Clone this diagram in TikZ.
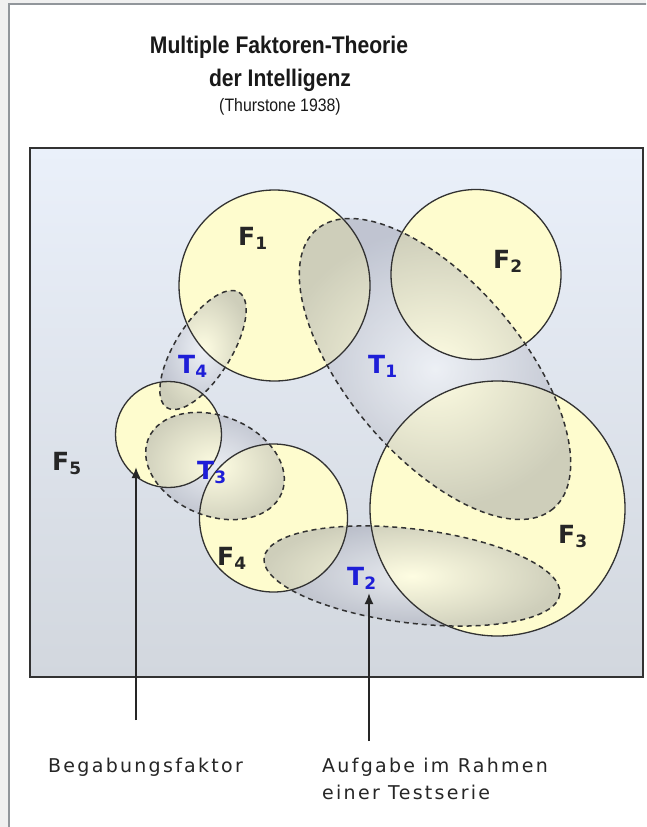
\documentclass[tikz,border=0pt]{standalone}
\usepackage{fontspec}
\setmainfont{Liberation Sans}
\newfontfamily\titlefont[FakeStretch=0.88]{Liberation Sans}
\newfontfamily\labfont{DejaVu Sans}
\newfontfamily\notefont[LetterSpace=12]{DejaVu Sans}
\usetikzlibrary{arrows.meta}

\definecolor{pagegray}{RGB}{240,240,240}
\definecolor{framegray}{RGB}{145,150,155}
\definecolor{boxtop}{RGB}{234,240,250}
\definecolor{boxbot}{RGB}{210,215,222}
\definecolor{circfill}{RGB}{254,252,206}
\definecolor{edgecol}{RGB}{50,50,50}
\definecolor{tblue}{RGB}{30,30,215}
\definecolor{shadeout}{RGB}{140,143,160}
\newcommand{\subdig}[1]{\raisebox{-4pt}{\fontsize{17}{17}\selectfont #1}}

\begin{document}
\begin{tikzpicture}[x=1pt,y=-1pt,
  circfillst/.style={fill=circfill},
  circline/.style={draw=edgecol, line width=1.3pt},
  taskshade/.style={inner color=white, outer color=shadeout, fill opacity=0.42},
  taskline/.style={draw=edgecol, line width=1.5pt, dash pattern=on 5pt off 4pt},
  flabel/.style={anchor=base west, inner sep=0pt, text=black!85, font=\labfont\bfseries\fontsize{25}{25}\selectfont},
  tlabel/.style={anchor=base west, inner sep=0pt, text=tblue, font=\labfont\bfseries\fontsize{25}{25}\selectfont},
  titlest/.style={anchor=base, inner sep=0pt, text=black!90},
  notest/.style={anchor=base west, inner sep=0pt, text=black!85, font=\notefont\fontsize{19}{19}\selectfont},
  pointer/.style={draw=black!85, line width=1.8pt, -{Latex[length=11pt,width=9pt]}}
]
\useasboundingbox (0,0) rectangle (646,827);
\clip (0,0) rectangle (646,827);

% page
\fill[pagegray] (0,0) rectangle (646,827);
\fill[white] (9,4) rectangle (700,900);
\draw[framegray, line width=1.5pt] (9,900) -- (9,4) -- (700,4);

% title
\node[titlest, font=\titlefont\bfseries\fontsize{24}{24}\selectfont] (title1) at (279,53) {Multiple Faktoren-Theorie};
\node[titlest, font=\titlefont\bfseries\fontsize{24}{24}\selectfont] (title2) at (280,86) {der Intelligenz};
\node[titlest, font=\titlefont\fontsize{18}{18}\selectfont] (title3) at (280,111) {(Thurstone 1938)};

% frame box
\shade[top color=boxtop, bottom color=boxbot] (30,148) rectangle (643,677);
\draw[edgecol, line width=1.6pt] (30,148) rectangle (643,677);

% centres
\coordinate (c1) at (274.5,285.5);
\coordinate (c2) at (476,274.5);
\coordinate (c3) at (497.5,508.5);
\coordinate (c4) at (273.5,518);
\coordinate (c5) at (168.5,434.5);
\coordinate (e1) at (435,369);
\coordinate (e2) at (412,576);
\coordinate (e3) at (215,466);
\coordinate (e4) at (203,350);

% circle fills
\fill[circfillst] (c1) circle[radius=95.5];
\fill[circfillst] (c2) circle[radius=85];
\fill[circfillst] (c3) circle[radius=127.5];
\fill[circfillst] (c4) circle[radius=74];
\fill[circfillst] (c5) circle[radius=53];

% task shadings
\shade[taskshade, rotate around={-49.7:(e1)}] (e1) ellipse[x radius=183, y radius=87];
\shade[taskshade, rotate around={-7:(e2)}] (e2) ellipse[x radius=149, y radius=47];
\shade[taskshade, rotate around={-22:(e3)}] (e3) ellipse[x radius=72, y radius=50];
\shade[taskshade, rotate around={58:(e4)}] (e4) ellipse[x radius=68, y radius=28];

% circle outlines
\draw[circline] (c1) circle[radius=95.5];
\draw[circline] (c2) circle[radius=85];
\draw[circline] (c3) circle[radius=127.5];
\draw[circline] (c4) circle[radius=74];
\draw[circline] (c5) circle[radius=53];

% task outlines
\draw[taskline, rotate around={-49.7:(e1)}] (e1) ellipse[x radius=183, y radius=87];
\draw[taskline, rotate around={-7:(e2)}] (e2) ellipse[x radius=149, y radius=47];
\draw[taskline, rotate around={-22:(e3)}] (e3) ellipse[x radius=72, y radius=50];
\draw[taskline, rotate around={58:(e4)}] (e4) ellipse[x radius=68, y radius=28];

% labels
\node[flabel] (lF1) at (238,245) {F\subdig{1}};
\node[flabel] (lF2) at (493,268) {F\subdig{2}};
\node[flabel] (lF3) at (558,543) {F\subdig{3}};
\node[flabel] (lF4) at (217,565) {F\subdig{4}};
\node[flabel] (lF5) at (52,470) {F\subdig{5}};
\node[tlabel] (lT1) at (368,373) {T\subdig{1}};
\node[tlabel] (lT2) at (347,585) {T\subdig{2}};
\node[tlabel] (lT3) at (197,479) {T\subdig{3}};
\node[tlabel] (lT4) at (178,373) {T\subdig{4}};

% pointers
\coordinate (p1s) at (136,720);
\coordinate (p1e) at (136,467);
\coordinate (p2s) at (369,741);
\coordinate (p2e) at (369,593);
\draw[pointer] (p1s) -- (p1e);
\draw[pointer] (p2s) -- (p2e);

% notes
\node[notest] (n1) at (48,772) {Begabungsfaktor};
\node[notest] (n2) at (322,772) {Aufgabe im Rahmen};
\node[notest] (n3) at (322,799) {einer Testserie};
\end{tikzpicture}
\end{document}
